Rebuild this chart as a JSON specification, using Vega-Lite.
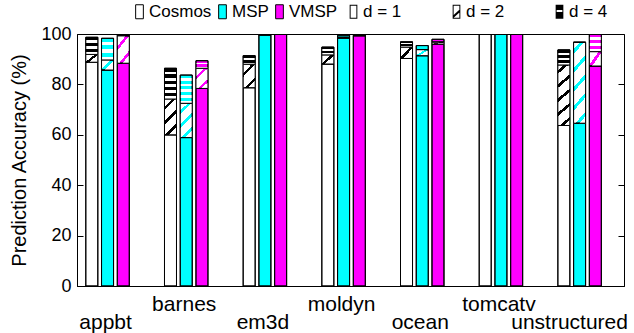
{
  "$schema": "https://vega.github.io/schema/vega-lite/v6.json",
  "width": 547,
  "height": 252,
  "autosize": {"type": "none"},
  "padding": {"left": 77, "top": 34, "right": 10, "bottom": 47},
  "config": {
    "font": "Liberation Sans",
    "view": {"stroke": "black", "strokeWidth": 1},
    "axis": {"grid": false, "domainColor": "black", "tickColor": "black", "labelColor": "black", "titleColor": "black", "labelFont": "Liberation Sans", "titleFont": "Liberation Sans"},
    "legend": {"labelFont": "Liberation Sans", "labelColor": "black", "labelFontSize": 17, "padding": 0, "labelOffset": 1, "symbolSize": 196, "symbolStrokeWidth": 1, "symbolStrokeColor": "black", "symbolType": "M-0.55,-1H0.55V1H-0.55Z", "direction": "horizontal", "orient": "none"}
  },
  "resolve": {"axis": {"y": "independent"}},
  "data": {
    "values": [
      {"bench": "appbt", "series": "Cosmos", "level": "d = 1", "value": 88.8},
      {"bench": "appbt", "series": "Cosmos", "level": "d = 2", "value": 3.1},
      {"bench": "appbt", "series": "Cosmos", "level": "d = 4", "value": 6.8},
      {"bench": "appbt", "series": "MSP", "level": "d = 1", "value": 85.7},
      {"bench": "appbt", "series": "MSP", "level": "d = 2", "value": 4.0},
      {"bench": "appbt", "series": "MSP", "level": "d = 4", "value": 8.6},
      {"bench": "appbt", "series": "VMSP", "level": "d = 1", "value": 88.4},
      {"bench": "appbt", "series": "VMSP", "level": "d = 2", "value": 10.9},
      {"bench": "appbt", "series": "VMSP", "level": "d = 4", "value": 0.5},
      {"bench": "barnes", "series": "Cosmos", "level": "d = 1", "value": 60.0},
      {"bench": "barnes", "series": "Cosmos", "level": "d = 2", "value": 14.2},
      {"bench": "barnes", "series": "Cosmos", "level": "d = 4", "value": 12.2},
      {"bench": "barnes", "series": "MSP", "level": "d = 1", "value": 58.9},
      {"bench": "barnes", "series": "MSP", "level": "d = 2", "value": 13.6},
      {"bench": "barnes", "series": "MSP", "level": "d = 4", "value": 11.2},
      {"bench": "barnes", "series": "VMSP", "level": "d = 1", "value": 78.4},
      {"bench": "barnes", "series": "VMSP", "level": "d = 2", "value": 8.0},
      {"bench": "barnes", "series": "VMSP", "level": "d = 4", "value": 3.0},
      {"bench": "em3d", "series": "Cosmos", "level": "d = 1", "value": 78.7},
      {"bench": "em3d", "series": "Cosmos", "level": "d = 2", "value": 9.3},
      {"bench": "em3d", "series": "Cosmos", "level": "d = 4", "value": 3.4},
      {"bench": "em3d", "series": "MSP", "level": "d = 1", "value": 99.6},
      {"bench": "em3d", "series": "MSP", "level": "d = 2", "value": 0.2},
      {"bench": "em3d", "series": "MSP", "level": "d = 4", "value": 0.2},
      {"bench": "em3d", "series": "VMSP", "level": "d = 1", "value": 99.8},
      {"bench": "em3d", "series": "VMSP", "level": "d = 2", "value": 0.1},
      {"bench": "em3d", "series": "VMSP", "level": "d = 4", "value": 0.1},
      {"bench": "moldyn", "series": "Cosmos", "level": "d = 1", "value": 88.1},
      {"bench": "moldyn", "series": "Cosmos", "level": "d = 2", "value": 3.6},
      {"bench": "moldyn", "series": "Cosmos", "level": "d = 4", "value": 3.1},
      {"bench": "moldyn", "series": "MSP", "level": "d = 1", "value": 98.4},
      {"bench": "moldyn", "series": "MSP", "level": "d = 2", "value": 0.3},
      {"bench": "moldyn", "series": "MSP", "level": "d = 4", "value": 0.8},
      {"bench": "moldyn", "series": "VMSP", "level": "d = 1", "value": 99.3},
      {"bench": "moldyn", "series": "VMSP", "level": "d = 2", "value": 0.1},
      {"bench": "moldyn", "series": "VMSP", "level": "d = 4", "value": 0.1},
      {"bench": "ocean", "series": "Cosmos", "level": "d = 1", "value": 90.3},
      {"bench": "ocean", "series": "Cosmos", "level": "d = 2", "value": 4.5},
      {"bench": "ocean", "series": "Cosmos", "level": "d = 4", "value": 2.1},
      {"bench": "ocean", "series": "MSP", "level": "d = 1", "value": 91.4},
      {"bench": "ocean", "series": "MSP", "level": "d = 2", "value": 2.4},
      {"bench": "ocean", "series": "MSP", "level": "d = 4", "value": 1.6},
      {"bench": "ocean", "series": "VMSP", "level": "d = 1", "value": 96.0},
      {"bench": "ocean", "series": "VMSP", "level": "d = 2", "value": 0.8},
      {"bench": "ocean", "series": "VMSP", "level": "d = 4", "value": 1.1},
      {"bench": "tomcatv", "series": "Cosmos", "level": "d = 1", "value": 100.0},
      {"bench": "tomcatv", "series": "Cosmos", "level": "d = 2", "value": 0.0},
      {"bench": "tomcatv", "series": "Cosmos", "level": "d = 4", "value": 0.0},
      {"bench": "tomcatv", "series": "MSP", "level": "d = 1", "value": 100.0},
      {"bench": "tomcatv", "series": "MSP", "level": "d = 2", "value": 0.0},
      {"bench": "tomcatv", "series": "MSP", "level": "d = 4", "value": 0.0},
      {"bench": "tomcatv", "series": "VMSP", "level": "d = 1", "value": 100.0},
      {"bench": "tomcatv", "series": "VMSP", "level": "d = 2", "value": 0.0},
      {"bench": "tomcatv", "series": "VMSP", "level": "d = 4", "value": 0.0},
      {"bench": "unstructured", "series": "Cosmos", "level": "d = 1", "value": 63.7},
      {"bench": "unstructured", "series": "Cosmos", "level": "d = 2", "value": 24.0},
      {"bench": "unstructured", "series": "Cosmos", "level": "d = 4", "value": 6.0},
      {"bench": "unstructured", "series": "MSP", "level": "d = 1", "value": 64.6},
      {"bench": "unstructured", "series": "MSP", "level": "d = 2", "value": 32.1},
      {"bench": "unstructured", "series": "MSP", "level": "d = 4", "value": 0.0},
      {"bench": "unstructured", "series": "VMSP", "level": "d = 1", "value": 87.3},
      {"bench": "unstructured", "series": "VMSP", "level": "d = 2", "value": 5.7},
      {"bench": "unstructured", "series": "VMSP", "level": "d = 4", "value": 6.9}
    ]
  },
  "transform": [{"calculate": "datum.bench + '|' + datum.series", "as": "slot"}],
  "layer": [
    {
      "mark": {"type": "bar", "stroke": "black", "strokeWidth": 1, "clip": true},
      "encoding": {
        "x": {
          "field": "slot", "type": "nominal",
          "scale": {
            "domain": ["appbt|Cosmos","appbt|MSP","appbt|VMSP","appbt|g1","appbt|g2",
                       "barnes|Cosmos","barnes|MSP","barnes|VMSP","barnes|g1","barnes|g2",
                       "em3d|Cosmos","em3d|MSP","em3d|VMSP","em3d|g1","em3d|g2",
                       "moldyn|Cosmos","moldyn|MSP","moldyn|VMSP","moldyn|g1","moldyn|g2",
                       "ocean|Cosmos","ocean|MSP","ocean|VMSP","ocean|g1","ocean|g2",
                       "tomcatv|Cosmos","tomcatv|MSP","tomcatv|VMSP","tomcatv|g1","tomcatv|g2",
                       "unstructured|Cosmos","unstructured|MSP","unstructured|VMSP"],
            "paddingInner": 0.237, "paddingOuter": 1.018, "align": 0.28
          },
          "axis": {
            "title": null, "ticks": false, "labelAngle": 0, "labelFontSize": 21, "labelLimit": 0,
            "labelExpr": "split(datum.value, '|')[1] == 'MSP' ? split(datum.value, '|')[0] : ''",
            "labelPadding": {"condition": {"test": "indexof(['barnes|MSP','moldyn|MSP','tomcatv|MSP'], datum.value) >= 0", "value": 7}, "value": 25},
            "labelOffset": {"condition": {"test": "datum.value == 'unstructured|MSP'", "value": -10}, "value": -2}
          }
        },
        "y": {
          "field": "value", "type": "quantitative", "stack": "zero",
          "scale": {"domain": [0, 100], "nice": false},
          "axis": {"values": [0, 20, 40, 60, 80, 100], "tickSize": -6, "labelFontSize": 18, "labelPadding": 12, "title": "Prediction Accuracy (%)", "titleFontSize": 20, "titleFontWeight": "normal", "titlePadding": 11}
        },
        "order": {"field": "level", "sort": "ascending"},
        "detail": {"field": "level"},
        "fill": {
          "condition": {"test": "datum.level != 'd = 1' && datum.series == 'Cosmos'", "value": "black"},
          "field": "series", "type": "nominal",
          "scale": {"domain": ["Cosmos", "MSP", "VMSP"], "range": ["white", "#00ffff", "#ff00ff"]},
          "legend": {"title": null, "legendX": 54, "legendY": -31, "columnPadding": 2}
        }
      }
    },
    {
      "mark": {"type": "bar", "stroke": "black", "strokeWidth": 1, "clip": true},
      "encoding": {
        "x": {"field": "slot", "type": "nominal"},
        "y": {"field": "value", "type": "quantitative", "stack": "zero",
              "axis": {"orient": "right", "values": [0, 20, 40, 60, 80, 100], "tickSize": -6, "labels": false, "title": null, "domain": false}},
        "order": {"field": "level", "sort": "ascending"},
        "detail": {"field": "level"},
        "fill": {
          "condition": [
            {"test": "datum.series == 'Cosmos' && datum.level == 'd = 2' && datum.value < 6", "value": {"gradient": "linear", "x1": 0, "y1": 0, "x2": 1.083, "y2": 0.9, "stops": [{"offset": 0, "color": "white"}, {"offset": 0.42, "color": "white"}, {"offset": 0.42, "color": "black"}, {"offset": 0.58, "color": "black"}, {"offset": 0.58, "color": "white"}, {"offset": 1, "color": "white"}]}},
            {"test": "datum.series == 'Cosmos' && datum.level == 'd = 2' && datum.value < 12", "value": {"gradient": "linear", "x1": 0, "y1": 0, "x2": 0.649, "y2": 1.191, "stops": [{"offset": 0, "color": "white"}, {"offset": 0.25, "color": "white"}, {"offset": 0.25, "color": "black"}, {"offset": 0.35, "color": "black"}, {"offset": 0.35, "color": "white"}, {"offset": 0.7, "color": "white"}, {"offset": 0.7, "color": "black"}, {"offset": 0.8, "color": "black"}, {"offset": 0.8, "color": "white"}, {"offset": 1, "color": "white"}]}},
            {"test": "datum.series == 'Cosmos' && datum.level == 'd = 2' && datum.value < 20", "value": {"gradient": "linear", "x1": 0, "y1": 0, "x2": 0.408, "y2": 1.201, "stops": [{"offset": 0, "color": "white"}, {"offset": 0.16, "color": "white"}, {"offset": 0.16, "color": "black"}, {"offset": 0.24, "color": "black"}, {"offset": 0.24, "color": "white"}, {"offset": 0.46, "color": "white"}, {"offset": 0.46, "color": "black"}, {"offset": 0.54, "color": "black"}, {"offset": 0.54, "color": "white"}, {"offset": 0.76, "color": "white"}, {"offset": 0.76, "color": "black"}, {"offset": 0.84, "color": "black"}, {"offset": 0.84, "color": "white"}, {"offset": 1, "color": "white"}]}},
            {"test": "datum.series == 'Cosmos' && datum.level == 'd = 2'", "value": {"gradient": "linear", "x1": 0, "y1": 0, "x2": 0.193, "y2": 1.137, "stops": [{"offset": 0, "color": "white"}, {"offset": 0.075, "color": "white"}, {"offset": 0.075, "color": "black"}, {"offset": 0.125, "color": "black"}, {"offset": 0.125, "color": "white"}, {"offset": 0.275, "color": "white"}, {"offset": 0.275, "color": "black"}, {"offset": 0.325, "color": "black"}, {"offset": 0.325, "color": "white"}, {"offset": 0.475, "color": "white"}, {"offset": 0.475, "color": "black"}, {"offset": 0.525, "color": "black"}, {"offset": 0.525, "color": "white"}, {"offset": 0.675, "color": "white"}, {"offset": 0.675, "color": "black"}, {"offset": 0.725, "color": "black"}, {"offset": 0.725, "color": "white"}, {"offset": 0.875, "color": "white"}, {"offset": 0.875, "color": "black"}, {"offset": 0.925, "color": "black"}, {"offset": 0.925, "color": "white"}, {"offset": 1, "color": "white"}]}},
            {"test": "datum.level == 'd = 2' && datum.value < 6", "value": {"gradient": "linear", "x1": 0, "y1": 0, "x2": 1.083, "y2": 0.9, "stops": [{"offset": 0, "color": "white"}, {"offset": 0.42, "color": "white"}, {"offset": 0.42, "color": "rgba(255,255,255,0)"}, {"offset": 0.58, "color": "rgba(255,255,255,0)"}, {"offset": 0.58, "color": "white"}, {"offset": 1, "color": "white"}]}},
            {"test": "datum.level == 'd = 2' && datum.value < 12", "value": {"gradient": "linear", "x1": 0, "y1": 0, "x2": 0.649, "y2": 1.191, "stops": [{"offset": 0, "color": "white"}, {"offset": 0.25, "color": "white"}, {"offset": 0.25, "color": "rgba(255,255,255,0)"}, {"offset": 0.35, "color": "rgba(255,255,255,0)"}, {"offset": 0.35, "color": "white"}, {"offset": 0.7, "color": "white"}, {"offset": 0.7, "color": "rgba(255,255,255,0)"}, {"offset": 0.8, "color": "rgba(255,255,255,0)"}, {"offset": 0.8, "color": "white"}, {"offset": 1, "color": "white"}]}},
            {"test": "datum.level == 'd = 2' && datum.value < 20", "value": {"gradient": "linear", "x1": 0, "y1": 0, "x2": 0.408, "y2": 1.201, "stops": [{"offset": 0, "color": "white"}, {"offset": 0.16, "color": "white"}, {"offset": 0.16, "color": "rgba(255,255,255,0)"}, {"offset": 0.24, "color": "rgba(255,255,255,0)"}, {"offset": 0.24, "color": "white"}, {"offset": 0.46, "color": "white"}, {"offset": 0.46, "color": "rgba(255,255,255,0)"}, {"offset": 0.54, "color": "rgba(255,255,255,0)"}, {"offset": 0.54, "color": "white"}, {"offset": 0.76, "color": "white"}, {"offset": 0.76, "color": "rgba(255,255,255,0)"}, {"offset": 0.84, "color": "rgba(255,255,255,0)"}, {"offset": 0.84, "color": "white"}, {"offset": 1, "color": "white"}]}},
            {"test": "datum.level == 'd = 2'", "value": {"gradient": "linear", "x1": 0, "y1": 0, "x2": 0.193, "y2": 1.137, "stops": [{"offset": 0, "color": "white"}, {"offset": 0.075, "color": "white"}, {"offset": 0.075, "color": "rgba(255,255,255,0)"}, {"offset": 0.125, "color": "rgba(255,255,255,0)"}, {"offset": 0.125, "color": "white"}, {"offset": 0.275, "color": "white"}, {"offset": 0.275, "color": "rgba(255,255,255,0)"}, {"offset": 0.325, "color": "rgba(255,255,255,0)"}, {"offset": 0.325, "color": "white"}, {"offset": 0.475, "color": "white"}, {"offset": 0.475, "color": "rgba(255,255,255,0)"}, {"offset": 0.525, "color": "rgba(255,255,255,0)"}, {"offset": 0.525, "color": "white"}, {"offset": 0.675, "color": "white"}, {"offset": 0.675, "color": "rgba(255,255,255,0)"}, {"offset": 0.725, "color": "rgba(255,255,255,0)"}, {"offset": 0.725, "color": "white"}, {"offset": 0.875, "color": "white"}, {"offset": 0.875, "color": "rgba(255,255,255,0)"}, {"offset": 0.925, "color": "rgba(255,255,255,0)"}, {"offset": 0.925, "color": "white"}, {"offset": 1, "color": "white"}]}},
            {"test": "datum.series == 'Cosmos' && datum.level == 'd = 4' && datum.value < 2", "value": "black"},
            {"test": "datum.series == 'Cosmos' && datum.level == 'd = 4' && datum.value < 5", "value": {"gradient": "linear", "x1": 0, "y1": 0, "x2": 0, "y2": 1, "stops": [{"offset": 0, "color": "black"}, {"offset": 0.3, "color": "black"}, {"offset": 0.3, "color": "white"}, {"offset": 0.5, "color": "white"}, {"offset": 0.5, "color": "black"}, {"offset": 0.8, "color": "black"}, {"offset": 0.8, "color": "white"}, {"offset": 1, "color": "white"}]}},
            {"test": "datum.series == 'Cosmos' && datum.level == 'd = 4' && datum.value < 10", "value": {"gradient": "linear", "x1": 0, "y1": 0, "x2": 0, "y2": 1, "stops": [{"offset": 0, "color": "black"}, {"offset": 0.18, "color": "black"}, {"offset": 0.18, "color": "white"}, {"offset": 0.33, "color": "white"}, {"offset": 0.33, "color": "black"}, {"offset": 0.51, "color": "black"}, {"offset": 0.51, "color": "white"}, {"offset": 0.67, "color": "white"}, {"offset": 0.67, "color": "black"}, {"offset": 0.85, "color": "black"}, {"offset": 0.85, "color": "white"}, {"offset": 1, "color": "white"}]}},
            {"test": "datum.series == 'Cosmos' && datum.level == 'd = 4'", "value": {"gradient": "linear", "x1": 0, "y1": 0, "x2": 0, "y2": 1, "stops": [{"offset": 0, "color": "black"}, {"offset": 0.11, "color": "black"}, {"offset": 0.11, "color": "white"}, {"offset": 0.2, "color": "white"}, {"offset": 0.2, "color": "black"}, {"offset": 0.31, "color": "black"}, {"offset": 0.31, "color": "white"}, {"offset": 0.4, "color": "white"}, {"offset": 0.4, "color": "black"}, {"offset": 0.51, "color": "black"}, {"offset": 0.51, "color": "white"}, {"offset": 0.6, "color": "white"}, {"offset": 0.6, "color": "black"}, {"offset": 0.71, "color": "black"}, {"offset": 0.71, "color": "white"}, {"offset": 0.8, "color": "white"}, {"offset": 0.8, "color": "black"}, {"offset": 0.91, "color": "black"}, {"offset": 0.91, "color": "white"}, {"offset": 1, "color": "white"}]}},
            {"test": "datum.level == 'd = 4' && datum.value < 2", "value": "transparent"},
            {"test": "datum.level == 'd = 4' && datum.value < 5", "value": {"gradient": "linear", "x1": 0, "y1": 0, "x2": 0, "y2": 1, "stops": [{"offset": 0, "color": "rgba(255,255,255,0)"}, {"offset": 0.3, "color": "rgba(255,255,255,0)"}, {"offset": 0.3, "color": "white"}, {"offset": 0.5, "color": "white"}, {"offset": 0.5, "color": "rgba(255,255,255,0)"}, {"offset": 0.8, "color": "rgba(255,255,255,0)"}, {"offset": 0.8, "color": "white"}, {"offset": 1, "color": "white"}]}},
            {"test": "datum.level == 'd = 4' && datum.value < 10", "value": {"gradient": "linear", "x1": 0, "y1": 0, "x2": 0, "y2": 1, "stops": [{"offset": 0, "color": "rgba(255,255,255,0)"}, {"offset": 0.18, "color": "rgba(255,255,255,0)"}, {"offset": 0.18, "color": "white"}, {"offset": 0.33, "color": "white"}, {"offset": 0.33, "color": "rgba(255,255,255,0)"}, {"offset": 0.51, "color": "rgba(255,255,255,0)"}, {"offset": 0.51, "color": "white"}, {"offset": 0.67, "color": "white"}, {"offset": 0.67, "color": "rgba(255,255,255,0)"}, {"offset": 0.85, "color": "rgba(255,255,255,0)"}, {"offset": 0.85, "color": "white"}, {"offset": 1, "color": "white"}]}},
            {"test": "datum.level == 'd = 4'", "value": {"gradient": "linear", "x1": 0, "y1": 0, "x2": 0, "y2": 1, "stops": [{"offset": 0, "color": "rgba(255,255,255,0)"}, {"offset": 0.11, "color": "rgba(255,255,255,0)"}, {"offset": 0.11, "color": "white"}, {"offset": 0.2, "color": "white"}, {"offset": 0.2, "color": "rgba(255,255,255,0)"}, {"offset": 0.31, "color": "rgba(255,255,255,0)"}, {"offset": 0.31, "color": "white"}, {"offset": 0.4, "color": "white"}, {"offset": 0.4, "color": "rgba(255,255,255,0)"}, {"offset": 0.51, "color": "rgba(255,255,255,0)"}, {"offset": 0.51, "color": "white"}, {"offset": 0.6, "color": "white"}, {"offset": 0.6, "color": "rgba(255,255,255,0)"}, {"offset": 0.71, "color": "rgba(255,255,255,0)"}, {"offset": 0.71, "color": "white"}, {"offset": 0.8, "color": "white"}, {"offset": 0.8, "color": "rgba(255,255,255,0)"}, {"offset": 0.91, "color": "rgba(255,255,255,0)"}, {"offset": 0.91, "color": "white"}, {"offset": 1, "color": "white"}]}}
          ],
          "value": "transparent"
        }
      }
    },
    {
      "mark": {"type": "point", "filled": true, "color": "black", "opacity": 0},
      "encoding": {
        "x": {"field": "slot", "type": "nominal"},
        "y": {"field": "value", "type": "quantitative", "axis": null},
        "shape": {
          "field": "level", "type": "nominal",
          "scale": {
            "domain": ["d = 1", "d = 2", "d = 4"],
            "range": [
              "M-0.55,-1H0.55V1H-0.55Z M-0.41,-0.86V0.86H0.41V-0.86Z",
              "M-0.55,-1H0.55V1H-0.55Z M-0.41,-0.86V0.86H0.41V-0.86Z M-0.41,0.86L0.41,0.1V-0.3L-0.41,0.46Z",
              "M-0.55,-1H0.55V1H-0.55Z M-0.41,-0.25V0.05H0.41V-0.25Z"
            ]
          },
          "legend": {"title": null, "legendX": 268, "legendY": -31, "columnPadding": 46, "symbolOpacity": 1, "symbolFillColor": "black", "symbolStrokeWidth": 0, "symbolSize": 196}
        }
      }
    }
  ]
}
